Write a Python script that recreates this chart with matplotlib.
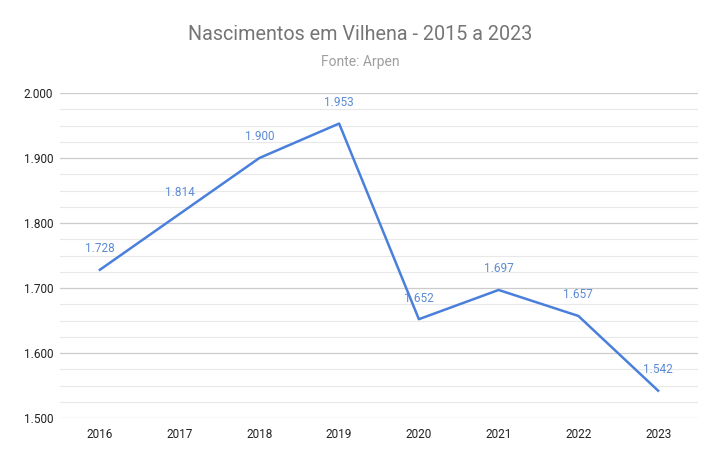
import matplotlib
matplotlib.use("Agg")
import matplotlib.pyplot as plt
from matplotlib.ticker import MultipleLocator, FuncFormatter

years = ["2016", "2017", "2018", "2019", "2020", "2021", "2022", "2023"]
births = [1728, 1814, 1900, 1953, 1652, 1697, 1657, 1542]
title = "Nascimentos em Vilhena - 2015 a 2023"
subtitle = "Fonte: Arpen"

plt.rcParams['font.family'] = ['Roboto', 'DejaVu Sans']
fig = plt.figure(figsize=(7.21, 4.62), dpi=100)
ax = fig.add_axes([60/721, 1-418/462, (698-60)/721, (418-93)/462])

x = list(range(len(years)))
ax.plot(x, births, color="#4a7fdc", lw=1.8, zorder=3)

def fmt(v):
    return f"{v/1000:.3f}"

for xi, v in zip(x, births):
    ax.annotate(fmt(v), (xi, v), xytext=(0, 10.5), textcoords="offset points",
                ha="center", va="bottom", fontsize=8.5, color="#5b8bd4", zorder=4)

ax.set_xlim(-0.5, len(years) - 0.5)
ax.set_ylim(1500, 2000)
ax.yaxis.set_major_locator(MultipleLocator(100))
ax.yaxis.set_minor_locator(MultipleLocator(25))
ax.yaxis.set_major_formatter(FuncFormatter(lambda v, p: fmt(v)))
ax.set_xticks(x)
ax.set_xticklabels(years)
ax.grid(which="major", axis="y", color="#cccccc", lw=0.9)
ax.grid(which="minor", axis="y", color="#e8e8e8", lw=0.8)
ax.set_axisbelow(True)
for s in ax.spines.values():
    s.set_visible(False)
ax.tick_params(axis="both", which="both", length=0, labelsize=8.5, colors="#222222")
ax.tick_params(axis="y", pad=5)
ax.tick_params(axis="x", pad=7)

fig.text(0.5, 1-35/462, title, ha="center", va="center", fontsize=14.2, color="#757575")
fig.text(0.5, 1-62/462, subtitle, ha="center", va="center", fontsize=10, color="#9e9e9e")

fig.savefig("out.png", dpi=100)
